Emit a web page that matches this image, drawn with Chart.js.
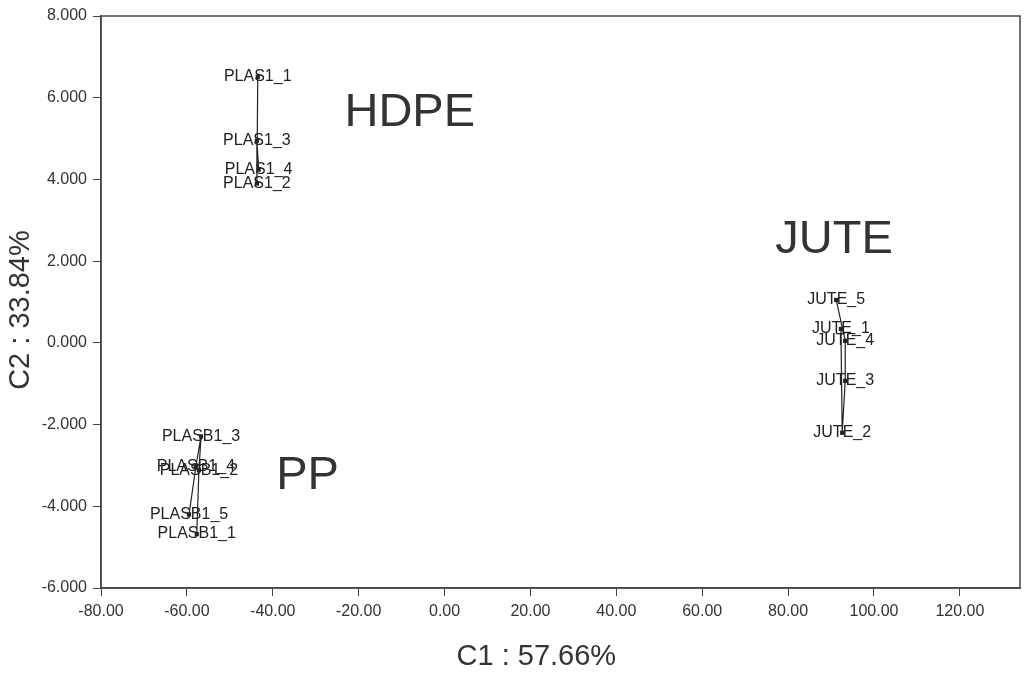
<!DOCTYPE html>
<html>
<head>
<meta charset="utf-8">
<script src="https://cdn.jsdelivr.net/npm/chart.js@4.4.0/dist/chart.umd.min.js"></script>
<style>
  html, body { margin: 0; padding: 0; background: #fff; }
</style>
</head>
<body>
<canvas id="plot" width="1024" height="676"></canvas>
<script>
// sample scores on the first two components
const hdpeNames = ['PLAS1_1', 'PLAS1_2', 'PLAS1_3', 'PLAS1_4']
const hdpeC1 = [-43.5, -43.7, -43.7, -43.3]
const hdpeC2 = [6.51, 3.90, 4.95, 4.24]

const ppNames = ['PLASB1_1', 'PLASB1_2', 'PLASB1_3', 'PLASB1_4', 'PLASB1_5']
const ppC1 = [-57.7, -57.2, -56.7, -57.9, -59.5]
const ppC2 = [-4.68, -3.12, -2.29, -3.02, -4.20]

const juteNames = ['JUTE_1', 'JUTE_2', 'JUTE_3', 'JUTE_4', 'JUTE_5']
const juteC1 = [92.3, 92.6, 93.3, 93.3, 91.2]
const juteC2 = [0.34, -2.20, -0.93, 0.05, 1.05]

// group captions, anchored in data units
const groupNames = ['HDPE', 'PP', 'JUTE']
const groupC1 = [-8.1, -31.9, 90.7]
const groupC2 = [5.63, -3.27, 2.51]

const xTicks = [-80, -60, -40, -20, 0, 20, 40, 60, 80, 100, 120]
const yTicks = [-6, -4, -2, 0, 2, 4, 6, 8]

const ink = '#333'
const tickFont = { family: '"Liberation Sans Narrow", "Liberation Sans", Arial, sans-serif', size: 16 }
const titleFont = { family: '"Liberation Sans", Arial, sans-serif', size: 29 }

function toPoints(xs, ys) {
    return xs.map((x, i) => ({ x: x, y: ys[i] }))
}

function makeSet(names, xs, ys) {
    return {
        names: names,
        data: toPoints(xs, ys),
        showLine: true,
        borderColor: '#222',
        borderWidth: 1.2,
        backgroundColor: '#222',
        pointStyle: 'rect',
        pointRadius: 3,
        pointBorderWidth: 0
    }
}

// frame, point labels and group captions
const decorations = {
    id: 'decorations',
    afterDraw(chart) {
        const ctx = chart.ctx
        const area = chart.chartArea
        const sx = chart.scales.x
        const sy = chart.scales.y
        ctx.save()
        ctx.strokeStyle = '#444'
        ctx.lineWidth = 1.5
        ctx.strokeRect(area.left, area.top, area.right - area.left, area.bottom - area.top)

        ctx.font = '16px "Liberation Sans", Arial, sans-serif'
        ctx.fillStyle = '#222'
        ctx.textAlign = 'center'
        ctx.textBaseline = 'middle'
        chart.data.datasets.forEach((ds, i) => {
            chart.getDatasetMeta(i).data.forEach((el, j) => {
                ctx.fillText(ds.names[j], el.x, el.y)
            })
        })

        ctx.font = '47px "Liberation Sans", Arial, sans-serif'
        ctx.fillStyle = ink
        groupNames.forEach((name, i) => {
            ctx.fillText(name, sx.getPixelForValue(groupC1[i]), sy.getPixelForValue(groupC2[i]))
        })
        ctx.restore()
    }
}

new Chart(document.getElementById('plot'), {
    type: 'scatter',
    data: {
        datasets: [
            makeSet(hdpeNames, hdpeC1, hdpeC2),
            makeSet(ppNames, ppC1, ppC2),
            makeSet(juteNames, juteC1, juteC2)
        ]
    },
    options: {
        responsive: false,
        animation: false,
        layout: { padding: { top: 16, right: 2, left: 0, bottom: 0 } },
        plugins: {
            legend: { display: false },
            tooltip: { enabled: false }
        },
        scales: {
            x: {
                type: 'linear',
                min: -80,
                max: 134,
                afterBuildTicks: s => { s.ticks = xTicks.map(v => ({ value: v })) },
                afterFit: s => { s.height = 88 },
                ticks: {
                    callback: v => v.toFixed(2),
                    font: tickFont,
                    color: ink,
                    padding: 6,
                    maxRotation: 0
                },
                grid: { drawOnChartArea: false, tickLength: 8, color: '#444' },
                border: { color: '#444', width: 1.5 },
                title: {
                    display: true,
                    text: 'C1 : 57.66%      ',
                    font: titleFont,
                    color: ink,
                    padding: { top: 0, bottom: 2 }
                }
            },
            y: {
                type: 'linear',
                min: -6,
                max: 8,
                afterBuildTicks: s => { s.ticks = yTicks.map(v => ({ value: v })) },
                afterFit: s => { s.width = 101 },
                ticks: {
                    callback: v => v.toFixed(3),
                    font: tickFont,
                    color: ink,
                    padding: 6
                },
                grid: { drawOnChartArea: false, tickLength: 8, color: '#444' },
                border: { color: '#444', width: 1.5 },
                title: {
                    display: true,
                    text: 'C2 : 33.84%  ',
                    font: titleFont,
                    color: ink,
                    padding: { top: 4, bottom: 0 }
                }
            }
        }
    },
    plugins: [decorations]
})
</script>
</body>
</html>
